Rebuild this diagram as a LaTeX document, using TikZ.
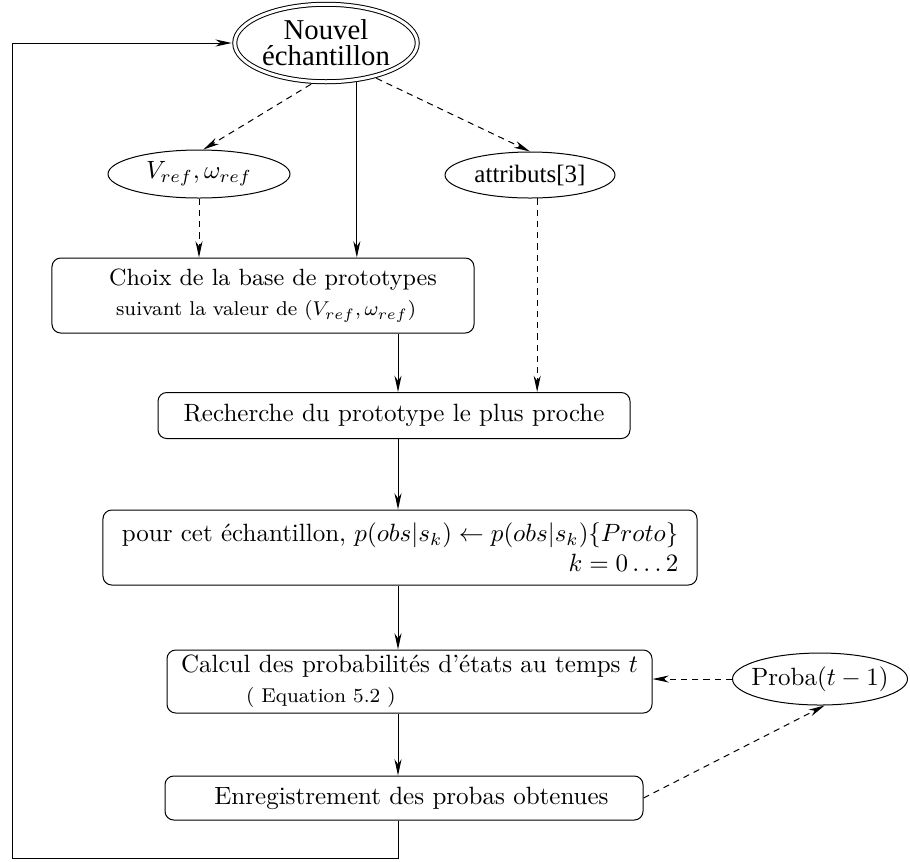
\documentclass[tikz,border=0pt]{standalone}
\usepackage{amsmath}
\usepackage{fontspec}
\newfontfamily\timesfont{Liberation Serif}
\usetikzlibrary{arrows.meta,shapes.geometric,calc}
\tikzset{
    % boxes and ellipses
    etape/.style={rectangle,draw,rounded corners=3.5pt,inner sep=0pt,align=center},
    donnee/.style={ellipse,draw,inner sep=0pt},
    % flows
    flux/.style={-{Stealth[length=6.5pt,width=2.8pt,inset=2pt]}},
    fluxpt/.style={flux,dash pattern=on 2.5pt off 2pt}
}

\begin{document}
\begin{tikzpicture}[x=0.4pt,y=-0.4pt]
    \useasboundingbox (0,0) rectangle (910,861);
    % Nodes
    \node[donnee,double,double distance=1.2pt,outer sep=1.2pt,minimum width=73pt,minimum height=31pt,align=center,font={\timesfont\fontsize{11.5}{10.5}\selectfont}] at (326,43) (nouvel) {Nouvel\\échantillon};
    \node[donnee,minimum width=72.8pt,minimum height=19.2pt] at (199,174) (vref) {$V_{ref},\omega_{ref}$};
    \node[donnee,minimum width=68pt,minimum height=18.4pt,font=\timesfont] at (530,175) (attributs) {attributs[3]};
    \node[etape,minimum width=168.8pt,minimum height=30pt,align=left] at (263,295.5) (choix) {\hspace*{8pt}{\fontsize{9.4}{12}\selectfont Choix de la base de prototypes}\\\hspace*{10.8pt}{\footnotesize suivant la valeur de $(V_{ref},\omega_{ref})$}};
    \node[etape,minimum width=188.8pt,minimum height=18.4pt] at (394,415.5) (recherche) {Recherche du prototype le plus proche};
    \node[etape,minimum width=237.6pt,minimum height=30pt,align=right] at (400,547.5) (pour) {pour cet échantillon, $p(obs|s_k)\leftarrow p(obs|s_k)\{Proto\}$\\$k=0\ldots2$};
    \node[etape,minimum width=194pt,minimum height=25.2pt,align=left] at (409.5,681.5) (calcul) {Calcul des probabilités d'états au temps $t$\\\hspace*{26pt}{\footnotesize ( Equation 5.2 )}};
    \node[etape,minimum width=191.2pt,minimum height=17.6pt] at (404,798) (enreg) {\hspace*{6pt}Enregistrement des probas obtenues};
    \node[donnee,minimum width=70pt,minimum height=20.8pt,inner xsep=-3pt] at (820,679) (proba) {Proba$(t-1)$};
    \coordinate (axe) at (398,0);
    \coordinate (retour) at (12,858);
    % Arrows
    \draw[fluxpt] (nouvel.250) -- (vref.80);
    \draw[fluxpt] (nouvel.-35) -- (attributs.north);
    \draw[flux] (nouvel.-52) -- (nouvel.-52 |- choix.north);
    \draw[fluxpt] (vref.south) -- (vref.south |- choix.north);
    \draw[fluxpt] (attributs.-73) -- (attributs.-73 |- recherche.north);
    \draw[flux] (choix.south -| axe) -- (recherche.north -| axe);
    \draw[flux] (recherche.south -| axe) -- (pour.north -| axe);
    \draw[flux] (pour.south -| axe) -- (calcul.north -| axe);
    \draw[flux] (calcul.south -| axe) -- (enreg.north -| axe);
    \draw[fluxpt] (proba.west) -- (proba.west -| calcul.east);
    \draw[fluxpt] (enreg.east) -- (proba.-80);
    % back to the next sample
    \draw[flux] (enreg.south -| axe) |- (retour) |- (nouvel.west);
\end{tikzpicture}
\end{document}
